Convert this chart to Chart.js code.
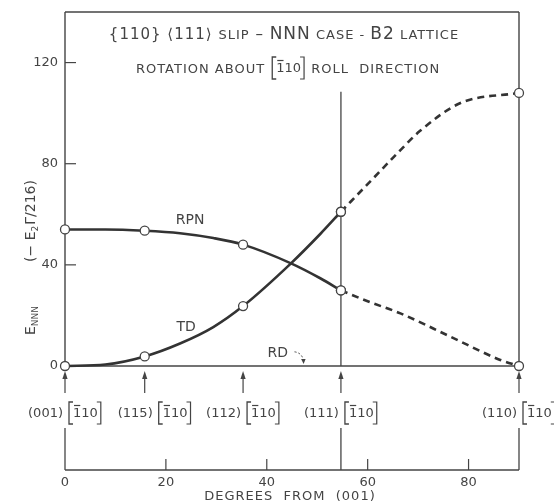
<!DOCTYPE html>
<html><head><meta charset="utf-8">
<script src="https://cdn.jsdelivr.net/npm/chart.js@4/dist/chart.umd.min.js"></script>
<style>html,body{margin:0;padding:0;background:#fff;}#wrap{width:554px;height:504px;position:relative;}</style>
</head><body><div id="wrap"><canvas id="c"></canvas></div>
<script>
// ---- data ----
const tdSolidDeg  = [0, 8, 15.8, 22.8, 29.4, 35.3, 44.8, 50.6, 54.7];
const tdSolidVal  = [0, 0.6, 3.8, 8.9, 15.4, 23.7, 40.6, 52.2, 61];
const tdDashDeg   = [54.7, 61, 66.5, 70.4, 78.4, 90];
const tdDashVal   = [61, 74, 85.4, 93, 104, 108];
const rpnSolidDeg = [0, 8, 15.8, 22.8, 29.4, 35.3, 44.8, 50.6, 54.7];
const rpnSolidVal = [54, 54, 53.5, 52.5, 50.6, 48, 40.6, 34.7, 29.9];
const rpnDashDeg  = [54.7, 60, 66.5, 76.4, 86.3, 90];
const rpnDashVal  = [29.9, 25.6, 20.8, 11.6, 2.4, 0];
const markerDeg   = [0, 15.8, 35.3, 54.7, 90];
const orientDeg   = [0, 15.8, 35.3, 54.7, 90];
const orientPlane = ['(001)', '(115)', '(112)', '(111)', '(110)'];
const yTicks = [0, 40, 80, 120];
const xTicks = [0, 20, 40, 60, 80];
const longTicks = [0, 54.7, 90];
const divideDeg = 54.7, divideTop = 108.5;
const yMax = 140;

const INK = '#333333', TXT = '#444444';
const FONT = '"DejaVu Sans", sans-serif';
const labelShift = [0, 10, 0, 0, 0]; // horizontal nudge of the orientation labels (px)

function pts(xs, ys){ return xs.map((x,i)=>({x:x, y:ys[i]})); }
function radii(xs){ return xs.map(x => markerDeg.includes(x) ? 4.5 : 0); }
function ds(xs, ys, dashed){
  return {data: pts(xs, ys), borderColor: INK, borderWidth: 2.6, borderDash: dashed ? [7,5] : [],
    pointRadius: radii(xs), pointBackgroundColor: '#fff', pointBorderColor: '#444', pointBorderWidth: 1.3,
    pointHoverRadius: radii(xs), cubicInterpolationMode: 'monotone', fill: false, clip: false};
}

function seg(ctx, x1, y1, x2, y2, w){ ctx.beginPath(); ctx.lineWidth = w; ctx.moveTo(x1,y1); ctx.lineTo(x2,y2); ctx.stroke(); }

function bracketGroup(ctx, x, y){
  ctx.save();
  ctx.strokeStyle = TXT; ctx.lineWidth = 1.3;
  const h = 11;
  ctx.beginPath(); ctx.moveTo(x+4, y-h); ctx.lineTo(x, y-h); ctx.lineTo(x, y+h); ctx.lineTo(x+4, y+h); ctx.stroke();
  ctx.font = '13px ' + FONT; ctx.textAlign = 'left'; ctx.textBaseline = 'middle'; ctx.fillStyle = TXT;
  const tx = x + 4;
  const w1 = ctx.measureText('1').width;
  ctx.fillText('110', tx, y+1);
  seg(ctx, tx+1, y-7.5, tx+w1-1, y-7.5, 1.2);
  const w = ctx.measureText('110').width;
  const ex = tx + w + 3;
  ctx.beginPath(); ctx.moveTo(ex-4, y-h); ctx.lineTo(ex, y-h); ctx.lineTo(ex, y+h); ctx.lineTo(ex-4, y+h); ctx.stroke();
  ctx.restore();
  return ex;
}

const decor = {
  id: 'decor',
  beforeDatasetsDraw(chart){
    const ctx = chart.ctx, xs = chart.scales.x, ys = chart.scales.y, a = chart.chartArea;
    ctx.save();
    ctx.strokeStyle = '#444';
    seg(ctx, a.left, a.top, a.left, a.bottom, 1.4);
    seg(ctx, a.left, a.top, a.right, a.top, 1.4);
    seg(ctx, a.right, a.top, a.right, a.bottom, 1.4);
    seg(ctx, a.left, a.bottom, a.right, a.bottom, 1.6);
    seg(ctx, xs.getPixelForValue(divideDeg), ys.getPixelForValue(divideTop), xs.getPixelForValue(divideDeg), a.bottom, 1.3);
    ctx.fillStyle = TXT; ctx.font = '13px ' + FONT; ctx.textAlign = 'right'; ctx.textBaseline = 'middle';
    yTicks.forEach(v => {
      const y = ys.getPixelForValue(v);
      if (v > 0) seg(ctx, a.left, y, a.left + 11, y, 1.2);
      ctx.fillText(String(v), a.left - 7, y);
    });
    ctx.restore();
  },
  afterDraw(chart){
    const ctx = chart.ctx, xs = chart.scales.x, ys = chart.scales.y, a = chart.chartArea;
    ctx.save();
    ctx.strokeStyle = '#444'; ctx.fillStyle = TXT;
    orientDeg.forEach((d, i) => {
      const x = xs.getPixelForValue(d);
      seg(ctx, x, a.bottom + 27, x, a.bottom + 10, 1.2);
      ctx.beginPath(); ctx.moveTo(x, a.bottom + 5); ctx.lineTo(x - 2.6, a.bottom + 13); ctx.lineTo(x + 2.6, a.bottom + 13); ctx.closePath(); ctx.fill();
      const ly = a.bottom + 47;
      const lx = x + labelShift[i];
      ctx.font = '13px ' + FONT; ctx.textAlign = 'right'; ctx.textBaseline = 'middle';
      ctx.fillText(orientPlane[i], lx - 2, ly + 1);
      bracketGroup(ctx, lx + 4, ly);
    });
    const by = a.bottom + 104;
    seg(ctx, xs.getPixelForValue(0), by, xs.getPixelForValue(90), by, 1.4);
    longTicks.forEach(d => { const x = xs.getPixelForValue(d); seg(ctx, x, a.bottom + 62, x, by, 1.3); });
    ctx.font = '13px ' + FONT; ctx.textAlign = 'center'; ctx.textBaseline = 'middle';
    xTicks.forEach(d => {
      const x = xs.getPixelForValue(d);
      if (d > 0) seg(ctx, x, by - 11, x, by, 1.2);
      ctx.fillText(String(d), x, by + 13);
    });
    ctx.font = '13px ' + FONT; ctx.letterSpacing = '1px';
    ctx.fillText('DEGREES  FROM  (001)', xs.getPixelForValue(45) - 2, by + 27);
    ctx.letterSpacing = '0px';

    ctx.font = '14px ' + FONT;
    ctx.fillText('RPN', xs.getPixelForValue(24.8), ys.getPixelForValue(57.7));
    ctx.fillText('TD', xs.getPixelForValue(24), ys.getPixelForValue(15.4));
    ctx.fillText('RD', xs.getPixelForValue(42.2), ys.getPixelForValue(5.1));
    const p0x = xs.getPixelForValue(45.5), p0y = ys.getPixelForValue(5.6);
    const p1x = xs.getPixelForValue(47.3), p1y = ys.getPixelForValue(0.8);
    ctx.save(); ctx.setLineDash([2,2]); ctx.lineWidth = 1;
    ctx.beginPath(); ctx.moveTo(p0x, p0y); ctx.quadraticCurveTo(p1x - 1, p0y + 1, p1x, p1y - 2); ctx.stroke(); ctx.restore();
    ctx.beginPath(); ctx.moveTo(p1x, p1y); ctx.lineTo(p1x - 2.5, p1y - 5); ctx.lineTo(p1x + 2, p1y - 5); ctx.closePath(); ctx.fill();

    // title line 1
    const cx = (a.left + a.right) / 2 - 8;
    ctx.letterSpacing = '1px';
    const parts1 = [['{110} ⟨111⟩ ', 15], ['SLIP', 13], [' – ', 15], ['NNN', 17], [' CASE - ', 13], ['B2', 17], [' LATTICE', 13]];
    let tot = 0;
    parts1.forEach(p => { ctx.font = p[1] + 'px ' + FONT; tot += ctx.measureText(p[0]).width; });
    let x = cx - tot / 2;
    ctx.textAlign = 'left'; ctx.textBaseline = 'alphabetic';
    parts1.forEach(p => { ctx.font = p[1] + 'px ' + FONT; ctx.fillText(p[0], x, 39); x += ctx.measureText(p[0]).width; });
    // title line 2
    ctx.font = '13px ' + FONT;
    const s1 = 'ROTATION ABOUT ', s2 = ' ROLL  DIRECTION';
    const w1 = ctx.measureText(s1).width, w2 = ctx.measureText(s2).width;
    ctx.letterSpacing = '0px';
    ctx.font = '13px ' + FONT; const wb = ctx.measureText('110').width + 11;
    let x2 = cx + 4 - (w1 + wb + w2) / 2;
    ctx.letterSpacing = '1px';
    ctx.font = '13px ' + FONT; ctx.fillText(s1, x2, 73);
    ctx.letterSpacing = '0px';
    const ebr = bracketGroup(ctx, x2 + w1 + 2, 68);
    ctx.letterSpacing = '1px';
    ctx.font = '13px ' + FONT; ctx.textAlign = 'left'; ctx.textBaseline = 'alphabetic'; ctx.fillStyle = TXT;
    ctx.fillText(s2, ebr + 2, 73);
    ctx.letterSpacing = '0px';

    // y axis title (rotated)
    ctx.save();
    ctx.translate(31, 0); ctx.rotate(-Math.PI / 2);
    ctx.textBaseline = 'middle'; ctx.textAlign = 'left';
    let yy = -335;
    ctx.font = '14px ' + FONT; ctx.fillText('E', yy, 0); yy += ctx.measureText('E').width;
    ctx.font = '9px ' + FONT; ctx.fillText('NNN', yy, 5);
    yy = -262;
    ctx.font = '14px ' + FONT; ctx.fillText('(− E', yy, 0); yy += ctx.measureText('(− E').width;
    ctx.font = '9px ' + FONT; ctx.fillText('2', yy, 5); yy += ctx.measureText('2').width + 1;
    ctx.font = '14px ' + FONT; ctx.fillText('Γ/216)', yy, 0);
    ctx.restore();
    ctx.restore();
  }
};

new Chart(document.getElementById('c'), {
  type: 'line',
  data: { datasets: [
    ds(tdSolidDeg, tdSolidVal, false),
    ds(rpnSolidDeg, rpnSolidVal, false),
    ds(tdDashDeg, tdDashVal, true),
    ds(rpnDashDeg, rpnDashVal, true)
  ]},
  options: {
    responsive: true, maintainAspectRatio: false, animation: false,
    layout: { padding: { left: 65, right: 35, top: 12, bottom: 138 } },
    scales: {
      x: { type: 'linear', min: 0, max: 90, display: false },
      y: { type: 'linear', min: 0, max: yMax, display: false }
    },
    plugins: { legend: { display: false }, tooltip: { enabled: false }, title: { display: false } },
    events: []
  },
  plugins: [decor]
});
</script>
</body></html>
